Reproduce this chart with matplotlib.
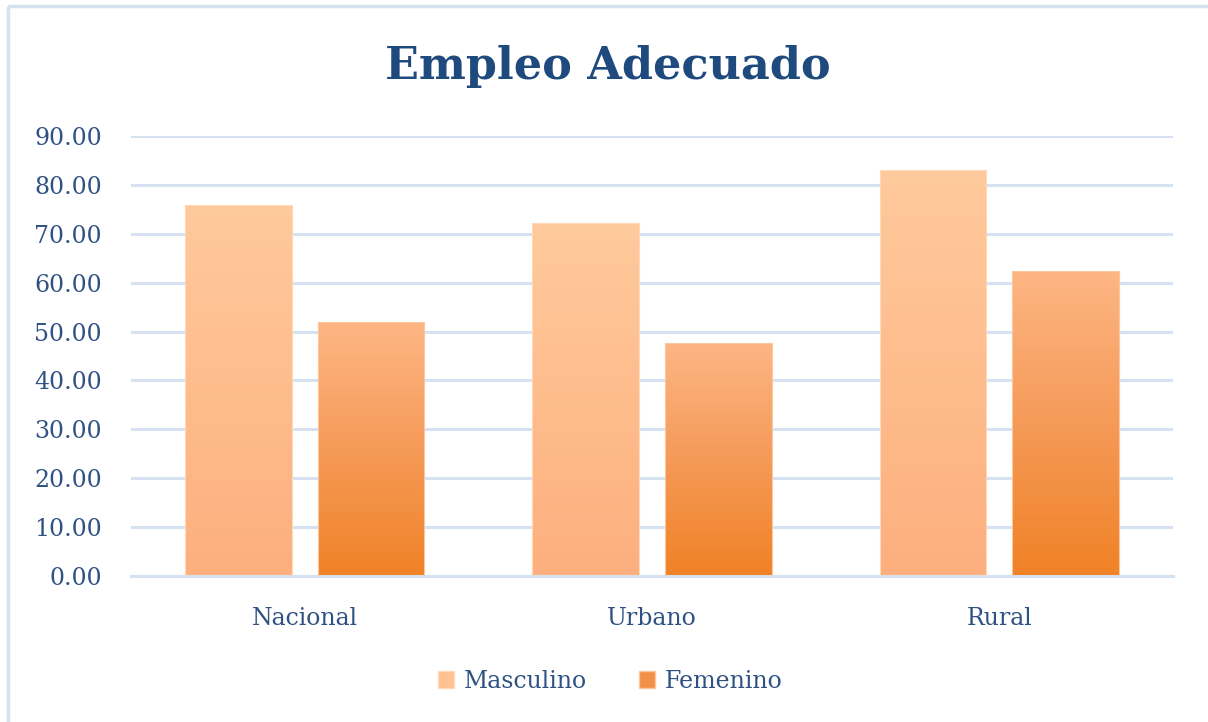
import numpy as np
import matplotlib.pyplot as plt
from matplotlib.colors import LinearSegmentedColormap
from matplotlib.lines import Line2D

# datos
categorias = ['Nacional', 'Urbano', 'Rural']
masculino = [75.9, 72.2, 83.0]
femenino = [51.9, 47.6, 62.4]
series = ['Masculino', 'Femenino']

azul_texto = '#2F5283'
azul_titulo = '#1F4A7D'
grid_color = '#D6E1F1'

plt.rcParams['font.family'] = ['DejaVu Serif']

fig = plt.figure(figsize=(12.08, 7.22), dpi=100)
ax = fig.add_axes([131 / 1208, 1 - 576 / 722, (1173 - 131) / 1208, 440 / 722])

# borde del grafico (arriba e izquierda)
fig.add_artist(Line2D([8 / 1208, 1], [1 - 6 / 722, 1 - 6 / 722], transform=fig.transFigure,
                      color=grid_color, lw=2.5, solid_capstyle='butt'))
fig.add_artist(Line2D([8 / 1208, 8 / 1208], [0, 1 - 6 / 722], transform=fig.transFigure,
                      color=grid_color, lw=2.5, solid_capstyle='butt'))

x = np.arange(len(categorias))
ancho = 0.308
desp = 0.191

cmap_m = LinearSegmentedColormap.from_list('m', ['#FDAF7E', '#FFCA9C'])
cmap_f = LinearSegmentedColormap.from_list('f', ['#F08226', '#F59A58', '#FDB684'])

bars_m = ax.bar(x - desp, masculino, ancho, color='none', edgecolor='#FFD9B8', lw=0.8, zorder=3)
bars_f = ax.bar(x + desp, femenino, ancho, color='none', edgecolor='#FDC79E', lw=0.8, zorder=3)

grad = np.linspace(0, 1, 256).reshape(-1, 1)
for bars, cmap in [(bars_m, cmap_m), (bars_f, cmap_f)]:
    for b in bars:
        x0, y0 = b.get_x(), b.get_y()
        w, h = b.get_width(), b.get_height()
        im = ax.imshow(grad, cmap=cmap, origin='lower', aspect='auto',
                       extent=[x0, x0 + w, y0, y0 + h], zorder=2)
        im.set_clip_path(b)

ax.set_xlim(-0.5, len(categorias) - 0.5)
ax.set_ylim(0, 90)
ax.set_yticks(np.arange(0, 91, 10))
ax.set_yticklabels([f'{v:.2f}' for v in np.arange(0, 91, 10)])
ax.set_xticks(x)
ax.set_xticklabels(categorias)

ax.yaxis.grid(True, color=grid_color, lw=2.2, zorder=0)
ax.set_axisbelow(True)
for s in ['top', 'right', 'left']:
    ax.spines[s].set_visible(False)
ax.spines['bottom'].set_color(grid_color)
ax.spines['bottom'].set_linewidth(2.2)
ax.tick_params(axis='both', length=0, colors=azul_texto, labelsize=17)
ax.tick_params(axis='y', pad=21)
ax.tick_params(axis='x', pad=22)

fig.text(0.503, 1 - 67 / 722, 'Empleo Adecuado', ha='center', va='center',
         fontsize=32, fontweight='bold', color=azul_titulo)

handles = [plt.Rectangle((0, 0), 1, 1, facecolor='#FEC192', edgecolor='#FFD9B8'),
           plt.Rectangle((0, 0), 1, 1, facecolor='#F39048', edgecolor='#FDC79E')]
leg = fig.legend(handles, series, loc='center', bbox_to_anchor=(0.505, 1 - 681 / 722),
                 ncol=2, frameon=False, fontsize=17, handlelength=0.7, handleheight=0.7,
                 handletextpad=0.4, columnspacing=2.2)
for t in leg.get_texts():
    t.set_color(azul_texto)

fig.savefig('out.png', dpi=100)
